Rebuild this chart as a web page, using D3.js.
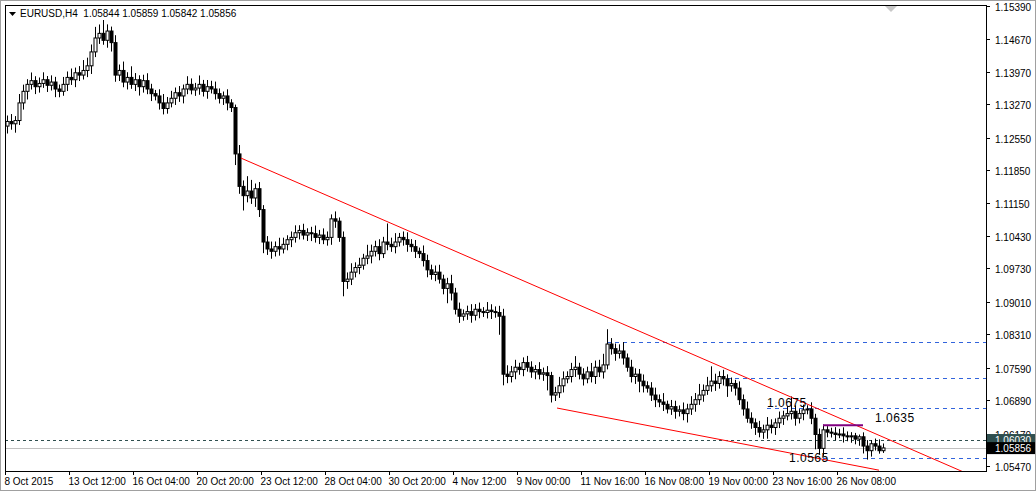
<!DOCTYPE html>
<html><head><meta charset="utf-8">
<script src="https://cdn.jsdelivr.net/npm/d3@7"></script>
<style>body{margin:0;background:#fff;}svg{display:block;font-family:"Liberation Sans",Arial,sans-serif;}</style>
</head><body><svg id="c" width="1036" height="491"></svg>
<script>
const closes=[1.1290,1.1285,1.1292,1.1330,1.1355,1.1370,1.1378,1.1365,1.1372,1.1380,1.1368,1.1375,1.1360,
1.1355,1.1370,1.1385,1.1380,1.1395,1.1390,1.1400,1.1410,1.1440,1.1470,1.1480,1.1465,1.1485,1.1460,
1.1390,1.1400,1.1375,1.1385,1.1370,1.1380,1.1365,1.1378,1.1360,1.1350,1.1345,1.1330,1.1318,1.1330,
1.1340,1.1352,1.1345,1.1360,1.1370,1.1358,1.1362,1.1370,1.1355,1.1365,1.1360,1.1350,1.1340,1.1345,1.1330,1.1320,
1.1220,1.1150,1.1130,1.1140,1.1125,1.1145,1.1100,1.1030,1.1015,1.1010,1.1020,1.1015,1.1025,1.1035,1.1040,
1.1050,1.1055,1.1045,1.1050,1.1048,1.1040,1.1045,1.1035,1.1040,1.1080,1.1075,1.1040,1.0945,1.0950,1.0965,
1.0975,1.0980,1.0995,1.1000,1.1010,1.1020,1.1005,1.1030,1.1025,1.1020,1.1030,1.1040,1.1035,1.1025,1.1020,
1.1010,1.1005,1.0990,1.0970,1.0960,1.0965,1.0950,1.0930,1.0940,1.0920,1.0885,1.0870,1.0875,1.0880,1.0872,
1.0885,1.0880,1.0878,1.0883,1.0880,1.0878,1.0870,1.0745,1.0740,1.0750,1.0760,1.0755,1.0770,1.0760,1.0750,
1.0755,1.0745,1.0748,1.0742,1.0700,1.0705,1.0720,1.0735,1.0740,1.0755,1.0760,1.0745,1.0735,1.0750,1.0740,
1.0760,1.0750,1.0765,1.0810,1.0800,1.0790,1.0795,1.0780,1.0760,1.0740,1.0745,1.0730,1.0720,1.0715,1.0700,
1.0690,1.0685,1.0680,1.0670,1.0675,1.0665,1.0668,1.0660,1.0670,1.0680,1.0690,1.0700,1.0710,1.0720,1.0730,
1.0725,1.0740,1.0735,1.0720,1.0725,1.0715,1.0690,1.0670,1.0650,1.0640,1.0630,1.0620,1.0625,1.0635,1.0630,
1.0640,1.0650,1.0655,1.0660,1.0665,1.0650,1.0660,1.0668,1.0670,1.0650,1.0615,1.0585,1.0625,1.0620,1.0618,
1.0615,1.0616,1.0612,1.0610,1.0612,1.0605,1.0610,1.0590,1.0580,1.0595,1.0590,1.0580,1.0586];
const firstOpen=1.1280;
const wickUp=[8,10,6,12,9,7,11,6,8,10,5,9,7,6,10,8,12,7,9,14,11,10,15,12,18,9,6,10,8,12,7,15,9,6,8,10,7,5,9,12,8,
10,7,9,6,11,8,7,12,6,9,8,10,7,6,9,5,4,12,8,20,15,7,9,6,8,10,7,12,9,6,8,10,7,9,6,8,11,7,9,8,6,10,5,8,9,12,7,10,6,
15,9,8,10,7,25,9,12,6,8,10,7,9,5,11,8,7,9,10,6,8,12,7,9,6,8,10,7,9,6,11,8,7,9,10,12,8,10,6,7,9,8,6,10,7,9,5,8,12,
10,7,9,15,6,8,7,12,9,10,15,20,8,7,9,12,6,10,8,7,9,6,8,10,7,12,5,9,8,6,10,7,11,9,15,8,12,20,10,7,9,6,8,5,9,7,10,
8,6,9,7,11,8,6,9,7,10,20,8,6,7,5,9,6,8,7,5,6,8,7,9,6,5,4,3,6,8,5,7,9,6,5,4,3,5,4,3,2,3,4,3,2,3];
const wickDn=[10,8,12,6,9,11,7,10,8,6,9,7,11,8,6,9,7,10,8,6,9,11,7,8,6,10,12,9,8,7,10,6,9,12,8,7,10,6,9,8,7,
6,9,8,10,7,6,8,9,7,10,6,8,7,9,10,6,15,10,20,9,8,12,10,15,8,10,7,9,6,8,10,7,9,6,8,10,7,9,6,8,10,9,6,20,10,8,7,9,6,
8,10,7,9,6,8,7,9,6,8,10,7,9,6,8,10,7,9,6,8,20,10,7,9,6,8,10,7,9,6,8,10,7,25,15,9,8,10,7,9,6,8,10,7,9,20,10,8,7,9,
6,8,10,7,9,6,8,10,7,9,6,8,10,7,9,6,8,10,15,9,6,8,10,7,9,6,8,10,7,9,12,8,10,7,9,6,8,10,7,9,15,8,10,7,9,6,8,10,7,9,
12,8,10,7,9,6,8,10,7,9,6,8,20,8,10,7,6,8,5,9,6,8,7,9,10,12,8,6,4,3,6,9,7,8,5,6,4,7,5,3,4,3,2,3,4,3,2,3];
const yTicks=[1.15390,1.14670,1.13970,1.13270,1.12550,1.11850,1.11150,1.10430,1.09730,1.09010,1.08310,1.07590,1.06890,1.06170,1.05470];
const xLabels=["8 Oct 2015","13 Oct 12:00","16 Oct 04:00","20 Oct 20:00","23 Oct 12:00","28 Oct 04:00","30 Oct 20:00","4 Nov 12:00","9 Nov 00:00","11 Nov 16:00","16 Nov 08:00","19 Nov 00:00","23 Nov 16:00","26 Nov 08:00"];
const xLabelBars=[0,16,32,48,64,80,96,112,128,144,160,176,192,208];
const upperTrend=[[58.5,1.1211],[245,1.0512]];
const lowerTrend=[[137.5,1.0672],[218,1.0538]];
const blueLevels=[[150,1.0815],[180,1.0737],[190,1.0672],[204,1.0565]];
const purple=[[204,1.0635],[214,1.0635]];
const notes=[{t:"1.0675",b:190,p:1.0675},{t:"1.0635",b:217,p:1.0642},{t:"1.0565",b:195.5,p:1.0555}];
const bidLine=1.05856, markLine=1.06030;

const svg=d3.select("#c");
const L=5,R=986,T=5,B=471;
const x=d3.scaleLinear().domain([0,1]).range([7,11]);
const y=d3.scaleLinear().domain([1.05470,1.15390]).range([466,6]);
const data=closes.map((c,i)=>{const o=i?closes[i-1]:firstOpen;return{i,o,c,h:Math.max(o,c)+wickUp[i]*1.6e-4,l:Math.min(o,c)-wickDn[i]*1.6e-4};});

svg.append("rect").attr("x",0).attr("y",0).attr("width",1036).attr("height",491).attr("fill","#fff");
const g=svg.append("g");
g.append("line").attr("x1",L).attr("x2",R).attr("y1",Math.round(y(markLine))+.5).attr("y2",Math.round(y(markLine))+.5).attr("stroke","#2f4f4f").attr("stroke-dasharray","3,3");
g.append("line").attr("x1",L).attr("x2",R).attr("y1",Math.round(y(bidLine))+.5).attr("y2",Math.round(y(bidLine))+.5).attr("stroke","#c0c0c0");
blueLevels.forEach(d=>g.append("line").attr("x1",x(d[0])).attr("x2",R).attr("y1",Math.round(y(d[1]))+.5).attr("y2",Math.round(y(d[1]))+.5).attr("stroke","#3264dc").attr("stroke-dasharray","4,4"));
data.forEach(d=>{const cx=Math.round(x(d.i))+.5;
 g.append("line").attr("x1",cx).attr("x2",cx).attr("y1",y(d.h)).attr("y2",y(d.l)).attr("stroke","#000");
 const top=y(Math.max(d.o,d.c)),bot=y(Math.min(d.o,d.c));
 g.append("rect").attr("x",cx-1.5).attr("y",top).attr("width",3).attr("height",Math.max(1,bot-top))
  .attr("fill",d.c>=d.o?"#fff":"#000").attr("stroke","#000").attr("stroke-width",1);
});
[upperTrend,lowerTrend].forEach(t=>g.append("line").attr("x1",x(t[0][0])).attr("y1",y(t[0][1])).attr("x2",x(t[1][0])).attr("y2",y(t[1][1])).attr("stroke","#f00"));
g.append("line").attr("x1",x(purple[0][0])).attr("x2",x(purple[1][0])).attr("y1",y(purple[0][1])).attr("y2",y(purple[1][1])).attr("stroke","#800080").attr("stroke-width",2);
notes.forEach(n=>g.append("text").attr("x",x(n.b)).attr("y",y(n.p)).attr("font-size",12).attr("letter-spacing","0.5px").attr("fill","#000").text(n.t));
svg.append("rect").attr("x",R).attr("y",0).attr("width",1036-R).attr("height",491).attr("fill","#fff");
svg.append("rect").attr("x",0).attr("y",B).attr("width",1036).attr("height",20).attr("fill","#fff");
svg.append("rect").attr("x",L+.5).attr("y",T+.5).attr("width",R-L).attr("height",B-T).attr("fill","none").attr("stroke","#000");
svg.append("rect").attr("x",.5).attr("y",.5).attr("width",1035).attr("height",490).attr("fill","none").attr("stroke","#a0a0a0");
yTicks.forEach(v=>{const yy=Math.round(y(v))+.5;
 svg.append("line").attr("x1",R).attr("x2",R+4).attr("y1",yy).attr("y2",yy).attr("stroke","#000");
 svg.append("text").attr("x",R+9).attr("y",yy+4).attr("font-size",10).text(v.toFixed(5));});
[[markLine,"#2f4f4f"],[bidLine,"#000"]].forEach(([v,col])=>{const yy=y(v);
 svg.append("rect").attr("x",R+1).attr("y",yy-6).attr("width",48).attr("height",12).attr("fill",col);
 svg.append("text").attr("x",R+9).attr("y",yy+4).attr("font-size",10).attr("fill","#fff").text(v.toFixed(5));});
xLabelBars.forEach((b,k)=>{const xx=Math.round(5+4*b)+.5;
 svg.append("line").attr("x1",xx).attr("x2",xx).attr("y1",B).attr("y2",B+4).attr("stroke","#000");
 svg.append("text").attr("x",xx-1).attr("y",B+14).attr("font-size",10).text(xLabels[k]);});
svg.append("path").attr("d","M9,12 L16,12 L12.5,16 Z").attr("fill","#000");
svg.append("text").attr("x",20).attr("y",17).attr("font-size",10).attr("xml:space","preserve").text("EURUSD,H4  1.05844 1.05859 1.05842 1.05856");
svg.append("path").attr("d","M885,6 L897,6 L891,12 Z").attr("fill","#c8c8c8");
</script></body></html>
